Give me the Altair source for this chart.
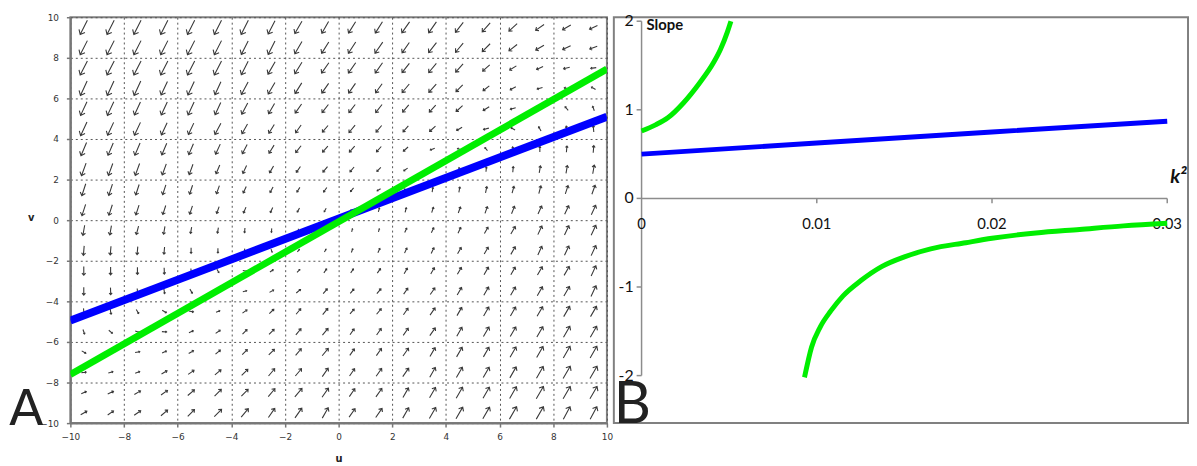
import altair as alt
import pandas as pd

# ---------------- Panel A data ----------------
arrow_u = [-9.5, -8.5, -7.5, -6.5, -5.5, -4.5, -3.5, -2.5, -1.5, -0.5,
           0.5, 1.5, 2.5, 3.5, 4.5, 5.5, 6.5, 7.5, 8.5, 9.5]
arrow_v = [9.5, 8.5, 7.5, 6.5, 5.5, 4.5, 3.5, 2.5, 1.5, 0.5,
           -0.5, -1.5, -2.5, -3.5, -4.5, -5.5, -6.5, -7.5, -8.5, -9.5]

# screen direction of each arrow (degrees clockwise from "up"), one row per v
arrow_angle = [
    [207, 207, 207, 207, 207, 207, 207, 207, 210, 210, 212, 212, 215, 215, 218, 222, 228, 235, 240, 245],
    [207, 207, 207, 207, 207, 207, 207, 207, 210, 212, 213, 215, 215, 218, 220, 225, 232, 240, 245, 250],
    [207, 207, 207, 207, 207, 207, 207, 210, 212, 215, 215, 215, 218, 220, 222, 228, 238, 245, 255, 262],
    [205, 205, 205, 205, 205, 205, 208, 210, 212, 215, 215, 216, 220, 222, 225, 232, 242, 255, 280, 300],
    [205, 205, 205, 205, 205, 205, 208, 210, 215, 218, 218, 218, 220, 222, 228, 238, 255, 290, 320, 340],
    [205, 205, 205, 205, 205, 208, 210, 212, 215, 220, 220, 220, 222, 228, 240, 255, 300, 330, 350, 355],
    [203, 203, 203, 203, 203, 205, 208, 212, 218, 222, 222, 222, 228, 250, 290, 320, 350, 0, 5, 5],
    [200, 200, 200, 200, 200, 203, 205, 210, 215, 220, 220, 225, 235, 270, 350, 5, 5, 10, 10, 10],
    [198, 198, 198, 198, 198, 200, 205, 208, 212, 215, 220, 240, 300, 10, 10, 12, 15, 15, 18, 20],
    [198, 198, 198, 198, 198, 200, 203, 205, 208, 210, 260, 15, 15, 18, 20, 20, 22, 25, 25, 25],
    [190, 190, 195, 190, 190, 190, 185, 185, 180, 30, 15, 15, 25, 25, 25, 30, 30, 25, 25, 25],
    [185, 185, 185, 185, 180, 180, 175, 160, 40, 30, 20, 25, 25, 25, 30, 30, 30, 25, 25, 25],
    [180, 180, 180, 178, 175, 150, 100, 55, 45, 35, 35, 35, 30, 30, 30, 30, 30, 30, 30, 25],
    [180, 178, 175, 170, 150, 110, 75, 60, 50, 40, 40, 40, 35, 35, 30, 30, 30, 30, 30, 25],
    [175, 170, 150, 120, 100, 70, 55, 45, 40, 40, 40, 40, 35, 35, 30, 30, 30, 30, 30, 30],
    [160, 130, 110, 95, 65, 55, 45, 45, 40, 40, 35, 35, 35, 35, 30, 30, 30, 30, 30, 30],
    [120, 100, 80, 65, 60, 50, 45, 45, 40, 40, 35, 35, 35, 30, 30, 30, 30, 30, 30, 30],
    [85, 75, 70, 60, 55, 50, 45, 40, 40, 35, 35, 35, 35, 30, 30, 30, 30, 30, 30, 30],
    [65, 65, 60, 55, 50, 45, 45, 40, 40, 35, 35, 35, 30, 30, 30, 30, 30, 30, 30, 30],
    [60, 55, 55, 50, 45, 45, 40, 35, 35, 30, 35, 35, 30, 30, 30, 30, 30, 30, 28, 28],
]

# relative arrow length (1 = longest arrow)
arrow_len = [
    [1, 1, 1, 1, 1, 1, 1, .95, .9, .85, .85, .85, .85, .85, .8, .75, .7, .65, .6, .55],
    [1, 1, 1, 1, 1, 1, .95, .95, .9, .85, .85, .85, .8, .8, .75, .7, .65, .6, .55, .5],
    [1, 1, 1, 1, 1, 1, .95, .9, .85, .8, .8, .8, .75, .75, .7, .6, .5, .45, .4, .35],
    [1, 1, 1, .95, .95, .9, .9, .85, .8, .75, .75, .7, .7, .7, .6, .5, .4, .35, .3, .3],
    [.95, .95, .9, .9, .9, .85, .8, .75, .7, .65, .65, .65, .6, .6, .55, .45, .35, .3, .3, .3],
    [.95, .9, .9, .85, .8, .8, .7, .65, .6, .55, .6, .55, .5, .5, .4, .35, .3, .3, .35, .4],
    [.9, .85, .85, .8, .75, .7, .65, .6, .55, .5, .5, .45, .4, .3, .25, .25, .3, .35, .4, .45],
    [.85, .8, .8, .75, .7, .6, .55, .5, .45, .45, .4, .35, .3, .25, .25, .3, .35, .45, .5, .55],
    [.8, .75, .7, .65, .6, .55, .45, .4, .35, .35, .3, .25, .2, .3, .35, .4, .45, .5, .55, .6],
    [.75, .7, .65, .6, .55, .45, .4, .35, .3, .25, .2, .25, .3, .35, .4, .45, .5, .55, .6, .65],
    [.65, .6, .55, .5, .4, .35, .3, .25, .2, .15, .2, .2, .3, .35, .4, .45, .55, .6, .65, .7],
    [.6, .55, .5, .45, .35, .3, .25, .2, .2, .2, .25, .3, .35, .4, .45, .5, .55, .6, .65, .7],
    [.55, .5, .45, .4, .3, .25, .25, .25, .25, .3, .3, .35, .4, .45, .5, .55, .55, .6, .65, .7],
    [.5, .45, .35, .3, .3, .25, .25, .3, .35, .4, .35, .4, .45, .5, .55, .6, .6, .65, .7, .75],
    [.4, .35, .3, .3, .3, .25, .35, .4, .45, .5, .4, .45, .5, .55, .6, .65, .65, .7, .75, .75],
    [.3, .3, .3, .3, .3, .35, .4, .45, .5, .55, .45, .5, .55, .6, .65, .7, .7, .75, .8, .8],
    [.3, .3, .3, .3, .35, .4, .45, .5, .55, .6, .5, .55, .6, .65, .7, .7, .75, .8, .85, .85],
    [.3, .3, .3, .4, .45, .5, .55, .6, .6, .65, .55, .6, .65, .7, .75, .75, .8, .85, .9, .9],
    [.35, .4, .45, .5, .55, .6, .6, .65, .7, .7, .6, .65, .7, .75, .8, .8, .85, .9, .9, .9],
    [.45, .45, .5, .55, .6, .65, .7, .7, .75, .75, .65, .7, .75, .8, .85, .85, .9, .9, .9, .9],
]

line_u = [-10, 10]
blue_v = [-4.95, 5.1]
green_v = [-7.6, 7.45]
a_ticks = [-10, -8, -6, -4, -2, 0, 2, 4, 6, 8, 10]

# ---------------- Panel B data ----------------
k2_blue = [0, 0.01, 0.02, 0.03]
slope_blue = [0.50, 0.625, 0.75, 0.87]
k2_green_up = [0, 0.0008, 0.0015, 0.0024, 0.0033, 0.0041, 0.0045, 0.0049, 0.0051]
slope_green_up = [0.76, 0.83, 0.91, 1.08, 1.30, 1.53, 1.68, 1.88, 2.0]
k2_green_lo = [0.0093, 0.0097, 0.0102, 0.0108, 0.0115, 0.0125, 0.0137, 0.0150,
               0.0165, 0.0185, 0.020, 0.0225, 0.025, 0.0275, 0.030]
slope_green_lo = [-2.02, -1.68, -1.45, -1.27, -1.10, -0.93, -0.77, -0.66,
                  -0.57, -0.50, -0.45, -0.39, -0.35, -0.31, -0.28]
b_y_ticks = [-2, -1, 0, 1, 2]
b_y_labels = ["-2", "-1", "0", "1", "2"]
b_x_ticks = [0, 0.01, 0.02, 0.03]
b_x_labels = ["0", "0.01", "0.02", "0.03"]

# ---------------- build panel A ----------------
W_A, H_A = 542, 410
ARROW_UNIT = 16
ARROW_PATH = "M0,1L0,-1M-0.42,-0.5L0,-1L0.42,-0.5"

rows = []
for i, v in enumerate(arrow_v):
    for j, u in enumerate(arrow_u):
        L = arrow_len[i][j] * ARROW_UNIT
        rows.append({"u": u, "v": v, "angle": arrow_angle[i][j] % 360, "size": L * L})
df_arrows = pd.DataFrame(rows)

xA = alt.Scale(domain=[-10, 10], nice=False, zero=False)
yA = alt.Scale(domain=[-10, 10], nice=False, zero=False)
common_axis = dict(values=a_ticks, grid=True, gridDash=[2, 3], gridColor="#555555", gridWidth=1,
                   domainColor="#777777", domainWidth=2, tickColor="#777777", tickSize=4, tickWidth=1.5,
                   labelFont="DejaVu Sans", labelFontSize=9, labelColor="#333333",
                   labelOverlap=False, labelFlush=False,
                   titleFont="DejaVu Sans", titleFontSize=10, titleFontWeight="bold", titleColor="#222222")
axA_x = alt.Axis(title="u", labelPadding=6, titlePadding=12, **common_axis)
axA_y = alt.Axis(title="v", labelPadding=8, titleAngle=0, titleX=-40, titleY=H_A / 2 - 3,
                 titleAlign="center", titleBaseline="middle", **common_axis)

arrows = alt.Chart(df_arrows).mark_point(
    shape=ARROW_PATH, filled=False, color="#3a3a3a", strokeWidth=1.1, opacity=1
).encode(
    x=alt.X("u:Q", scale=xA, axis=axA_x),
    y=alt.Y("v:Q", scale=yA, axis=axA_y),
    angle=alt.Angle("angle:Q", scale=None),
    size=alt.Size("size:Q", scale=None),
)

df_blueA = pd.DataFrame({"u": line_u, "v": blue_v})
df_greenA = pd.DataFrame({"u": line_u, "v": green_v})
blueA = alt.Chart(df_blueA).mark_line(color="#0000ff", strokeWidth=8, strokeCap="butt", clip=True).encode(
    x=alt.X("u:Q", scale=xA), y=alt.Y("v:Q", scale=yA))
greenA = alt.Chart(df_greenA).mark_line(color="#00ee00", strokeWidth=7, strokeCap="butt", clip=True).encode(
    x=alt.X("u:Q", scale=xA), y=alt.Y("v:Q", scale=yA))

letterA = alt.Chart(pd.DataFrame({"t": ["A"]})).mark_text(
    font="DejaVu Sans", fontSize=51, align="left", baseline="alphabetic", color="#222222"
).encode(text="t:N", x=alt.value(-62), y=alt.value(H_A + 2))

panelA = alt.layer(arrows, blueA, greenA, letterA).properties(width=W_A, height=H_A)

# ---------------- build panel B ----------------
W_B, H_B = 580, 410
xB = alt.Scale(domain=[-0.001582, 0.031186], nice=False, zero=False)
yB = alt.Scale(domain=[-2.5363, 2.0447], nice=False, zero=False)
FONT_B = "Lato, sans-serif"
AXIS_GRAY = "#8c8c8c"

yaxis_rule = alt.Chart(pd.DataFrame({"k2": [0], "lo": [b_y_ticks[0]], "hi": [b_y_ticks[-1]]})).mark_rule(
    color=AXIS_GRAY, strokeWidth=1.5).encode(
    x=alt.X("k2:Q", scale=xB, axis=None), y=alt.Y("lo:Q", scale=yB, axis=None), y2="hi:Q")
xaxis_rule = alt.Chart(pd.DataFrame({"s": [0], "lo": [b_x_ticks[0]], "hi": [b_x_ticks[-1]]})).mark_rule(
    color=AXIS_GRAY, strokeWidth=1.5).encode(
    y=alt.Y("s:Q", scale=yB, axis=None), x=alt.X("lo:Q", scale=xB, axis=None), x2="hi:Q")

df_yt = pd.DataFrame({"k2": [0] * len(b_y_ticks), "s": b_y_ticks, "lab": b_y_labels})
df_xt = pd.DataFrame({"k2": b_x_ticks, "s": [0] * len(b_x_ticks), "lab": b_x_labels})

ytick_marks = alt.Chart(df_yt).mark_point(shape="M-1,0L0,0", filled=False, color=AXIS_GRAY,
                                          strokeWidth=1.5, opacity=1, size=100).encode(
    x=alt.X("k2:Q", scale=xB, axis=None), y=alt.Y("s:Q", scale=yB, axis=None))
xtick_marks = alt.Chart(df_xt[df_xt["k2"] > 0]).mark_point(shape="M0,0L0,1", filled=False, color=AXIS_GRAY,
                                                           strokeWidth=1.5, opacity=1, size=100).encode(
    x=alt.X("k2:Q", scale=xB, axis=None), y=alt.Y("s:Q", scale=yB, axis=None))

ylabels = alt.Chart(df_yt).mark_text(font=FONT_B, fontSize=16, align="right", baseline="middle",
                                     dx=-8, color="#111111").encode(
    x=alt.X("k2:Q", scale=xB, axis=None), y=alt.Y("s:Q", scale=yB, axis=None), text="lab:N")
xlabels = alt.Chart(df_xt).mark_text(font=FONT_B, fontSize=15, align="center", baseline="middle",
                                     dy=26, color="#111111").encode(
    x=alt.X("k2:Q", scale=xB, axis=None), y=alt.Y("s:Q", scale=yB, axis=None), text="lab:N")

df_blueB = pd.DataFrame({"k2": k2_blue, "s": slope_blue})
df_greenB = pd.DataFrame({
    "k2": k2_green_up + k2_green_lo,
    "s": slope_green_up + slope_green_lo,
    "branch": ["upper"] * len(k2_green_up) + ["lower"] * len(k2_green_lo),
})
blueB = alt.Chart(df_blueB).mark_line(color="#0000ff", strokeWidth=5).encode(
    x=alt.X("k2:Q", scale=xB, axis=None), y=alt.Y("s:Q", scale=yB, axis=None))
greenB = alt.Chart(df_greenB).mark_line(color="#00ee00", strokeWidth=5, interpolate="monotone").encode(
    x=alt.X("k2:Q", scale=xB, axis=None), y=alt.Y("s:Q", scale=yB, axis=None), detail="branch:N")

df_slope_lab = pd.DataFrame({"k2": [0], "s": [b_y_ticks[-1]], "lab": ["Slope"]})
slope_lab = alt.Chart(df_slope_lab).mark_text(font=FONT_B, fontSize=15, fontWeight="bold", align="left",
                                              baseline="top", dx=5, dy=-3, color="#111111").encode(
    x=alt.X("k2:Q", scale=xB, axis=None), y=alt.Y("s:Q", scale=yB, axis=None), text="lab:N")
df_k2_lab = pd.DataFrame({"k2": [b_x_ticks[-1]], "s": [0], "lab": ["k²"]})
k2_lab = alt.Chart(df_k2_lab).mark_text(font=FONT_B, fontSize=20, fontWeight="bold", fontStyle="italic",
                                        align="left", baseline="alphabetic", dx=3, dy=-16,
                                        color="#111111").encode(
    x=alt.X("k2:Q", scale=xB, axis=None), y=alt.Y("s:Q", scale=yB, axis=None), text="lab:N")

letterB = alt.Chart(pd.DataFrame({"t": ["B"]})).mark_text(
    font=FONT_B, fontSize=58, align="left", baseline="alphabetic", color="#222222"
).encode(text="t:N", x=alt.value(0), y=alt.value(H_B))

panelB = alt.layer(yaxis_rule, xaxis_rule, ytick_marks, xtick_marks, ylabels, xlabels,
                   blueB, greenB, slope_lab, k2_lab, letterB).properties(width=W_B, height=H_B)

chart = alt.hconcat(panelA, panelB, spacing=-6).configure_view(
    stroke="#808080", strokeWidth=2
).properties(padding={"left": 0, "right": 0, "top": 0, "bottom": 0})

chart.save("out.html", embed_options={"renderer": "svg", "actions": False})
